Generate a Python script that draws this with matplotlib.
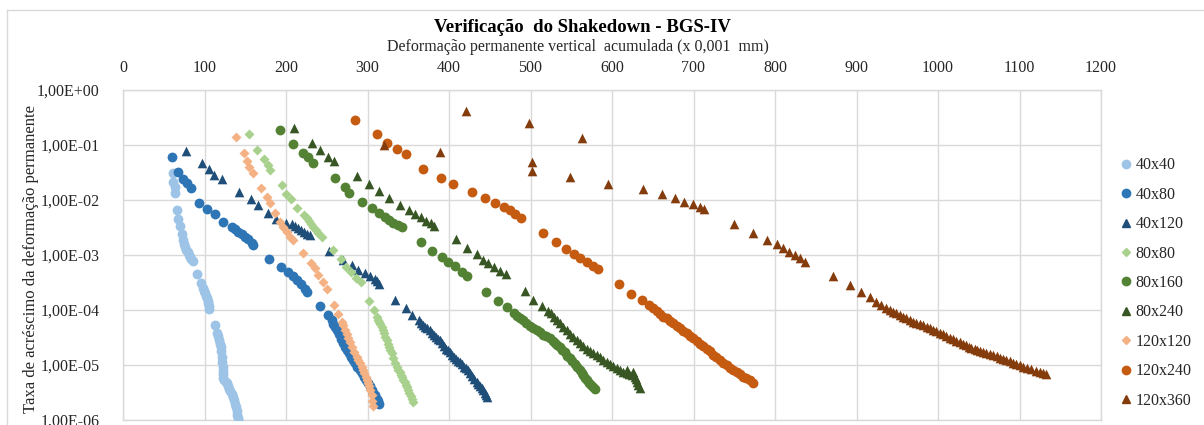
import numpy as np
import matplotlib
matplotlib.use("Agg")
import matplotlib.pyplot as plt
from matplotlib.lines import Line2D

plt.rcParams['font.family'] = ['Liberation Serif', 'DejaVu Serif']

title = "Verificação  do Shakedown - BGS-IV"
xlabel = "Deformação permanente vertical  acumulada (x 0,001  mm)"
ylabel = "Taxa de acréscimo da deformação permanente"

x_ticks = [0, 100, 200, 300, 400, 500, 600, 700, 800, 900, 1000, 1100, 1200]
y_ticks = [1e0, 1e-1, 1e-2, 1e-3, 1e-4, 1e-5, 1e-6]
y_tick_labels = ["1,00E+00", "1,00E-01", "1,00E-02", "1,00E-03", "1,00E-04", "1,00E-05", "1,00E-06"]

labels = ["40x40", "40x80", "40x120", "80x80", "80x160", "80x240", "120x120", "120x240", "120x360"]

# x values and log10(y) values
x_40x40 = [61.0, 61.7, 63.3, 63.8, 65.9, 67.1, 70.0, 72.0, 73.3, 74.8, 76.5, 77.8, 79.2, 80.6, 82.0, 83.5, 85.5,
           91.1, 95.3, 98.5, 99.6, 100.6, 101.6, 102.7, 103.7, 104.6, 105.3, 105.9, 112.9, 115.7, 116.9, 118.1,
           119.0, 119.8, 120.4, 121.1, 121.6, 122.3, 122.5, 122.3, 122.5, 124.5, 126.0, 127.2, 128.8, 130.3,
           131.8, 133.5, 135.3, 136.5, 137.6, 138.6, 139.4, 140.2, 141.5, 142.7]
ly_40x40 = [-1.515, -1.667, -1.764, -1.873, -2.18, -2.345, -2.47, -2.62, -2.73, -2.80, -2.85, -2.90, -2.95, -3.00,
            -3.04, -3.07, -3.10, -3.35, -3.50, -3.60, -3.65, -3.69, -3.74, -3.78, -3.83, -3.87, -3.93, -3.98,
            -4.27, -4.42, -4.48, -4.55, -4.61, -4.67, -4.75, -4.85, -4.95, -5.04, -5.10, -5.17, -5.24, -5.28,
            -5.31, -5.33, -5.39, -5.43, -5.47, -5.52, -5.58, -5.64, -5.70, -5.76, -5.84, -5.91, -5.97, -6.04]

x_40x80 = [60.5, 67.9, 73.2, 78.1, 83.0, 92.8, 103.4, 112.9, 123.0, 133.3, 137.4, 141.4, 145.6, 149.7, 153.7,
           157.9, 159.9, 179.1, 193.4, 202.8, 208.2, 213.1, 218.4, 223.3, 225.3, 241.7, 251.1, 256.0, 258.0,
           260.0, 262.1, 264.6, 267.2, 269.7, 272.3, 274.9, 277.4, 280.0, 282.5, 285.1, 287.7, 290.3, 292.8,
           295.4, 297.9, 300.5, 303.0, 305.0, 307.1, 309.1, 311.2, 312.8, 314.5]
ly_40x80 = [-1.224, -1.485, -1.624, -1.697, -1.788, -2.049, -2.164, -2.26, -2.406, -2.485, -2.53, -2.576, -2.62,
            -2.667, -2.715, -2.776, -2.81, -3.07, -3.21, -3.31, -3.39, -3.45, -3.53, -3.62, -3.67, -3.93, -4.09,
            -4.19, -4.25, -4.31, -4.36, -4.44, -4.52, -4.60, -4.67, -4.73, -4.79, -4.85, -4.91, -4.97, -5.03,
            -5.09, -5.15, -5.21, -5.27, -5.33, -5.39, -5.45, -5.50, -5.55, -5.61, -5.65, -5.70]

x_40x120 = [76.9, 96.5, 105.5, 111.6, 121.8, 142.7, 156.6, 165.2, 177.5, 187.5, 200.0, 206.9, 211.0, 215.0,
            218.5, 222.0, 226.0, 229.4, 253.1, 269.5, 280.5, 288.6, 296.9, 303.0, 309.1, 312.0, 314.4, 333.7,
            347.2, 354.1, 363.5, 366.0, 368.4, 371.0, 373.5, 376.6, 379.0, 381.5, 384.0, 386.5, 388.9, 391.5,
            394.0, 396.5, 399.0, 401.2, 404.0, 406.5, 409.0, 411.0, 413.4, 416.0, 418.5, 421.0, 423.6, 426.0,
            428.5, 431.0, 433.9, 436.0, 438.0, 440.0, 442.0, 444.0, 445.5, 446.9]
ly_40x120 = [-1.109, -1.321, -1.442, -1.545, -1.618, -1.848, -1.982, -2.09, -2.23, -2.34, -2.41, -2.44, -2.47,
             -2.50, -2.54, -2.576, -2.61, -2.636, -2.92, -3.09, -3.18, -3.27, -3.33, -3.39, -3.44, -3.48, -3.52,
             -3.81, -3.97, -4.09, -4.19, -4.23, -4.27, -4.30, -4.33, -4.36, -4.41, -4.45, -4.49, -4.52, -4.545,
             -4.60, -4.65, -4.70, -4.73, -4.76, -4.81, -4.85, -4.89, -4.92, -4.94, -4.99, -5.03, -5.06, -5.09,
             -5.15, -5.20, -5.25, -5.30, -5.35, -5.39, -5.42, -5.45, -5.50, -5.54, -5.58]

x_80x80 = [154.6, 164.8, 173.4, 177.5, 180.3, 194.7, 200.0, 205.7, 213.8, 222.0, 225.3, 228.6, 231.0, 233.5,
           236.5, 239.6, 243.7, 258.0, 267.0, 273.5, 279.3, 285.8, 291.5, 302.2, 307.9, 311.2, 312.8, 314.3,
           315.8, 317.3, 318.9, 320.4, 321.9, 323.4, 325.0, 326.5, 328.0, 329.6, 331.7, 333.7, 335.8, 337.8,
           339.3, 340.8, 342.3, 343.9, 345.5, 347.0, 348.5, 350.0, 351.5, 353.0, 354.5, 356.1]
ly_80x80 = [-0.806, -1.09, -1.255, -1.364, -1.455, -1.727, -1.89, -1.988, -2.14, -2.27, -2.33, -2.38, -2.43,
            -2.485, -2.55, -2.606, -2.667, -2.91, -3.08, -3.21, -3.30, -3.41, -3.485, -3.84, -4.00, -4.13,
            -4.18, -4.22, -4.26, -4.30, -4.36, -4.42, -4.49, -4.55, -4.61, -4.67, -4.73, -4.79, -4.88, -4.97,
            -5.03, -5.09, -5.13, -5.18, -5.22, -5.27, -5.31, -5.36, -5.40, -5.45, -5.50, -5.56, -5.62, -5.67]

x_80x160 = [192.6, 208.2, 221.2, 227.3, 233.5, 260.1, 272.3, 277.7, 292.8, 305.0, 314.4, 321.4, 326.6, 331.6,
            337.0, 341.9, 365.5, 379.4, 390.9, 399.1, 407.3, 415.5, 422.4, 445.3, 460.4, 470.7, 479.6, 483.0,
            487.0, 491.1, 495.0, 499.0, 503.0, 507.5, 511.5, 515.5, 519.5, 523.8, 527.0, 530.0, 533.0, 536.1,
            539.0, 542.0, 545.0, 548.3, 551.5, 554.5, 557.5, 560.6, 562.7, 564.8, 566.8, 568.8, 571.3, 573.8,
            576.5, 579.0]
ly_80x160 = [-0.727, -0.982, -1.14, -1.224, -1.321, -1.606, -1.758, -1.867, -2.04, -2.14, -2.24, -2.30, -2.36,
             -2.41, -2.46, -2.485, -2.76, -2.92, -3.03, -3.12, -3.20, -3.30, -3.39, -3.67, -3.84, -3.94, -4.06,
             -4.10, -4.15, -4.19, -4.24, -4.29, -4.33, -4.36, -4.40, -4.45, -4.48, -4.51, -4.56, -4.60, -4.64,
             -4.67, -4.72, -4.77, -4.83, -4.88, -4.93, -4.99, -5.04, -5.09, -5.14, -5.19, -5.23, -5.27, -5.32,
             -5.36, -5.40, -5.44]

x_80x240 = [210.1, 231.5, 241.7, 252.0, 259.2, 286.7, 302.2, 314.0, 326.6, 339.9, 351.2, 358.2, 365.2, 371.7,
            377.5, 381.5, 408.1, 421.6, 433.9, 441.2, 448.1, 455.5, 462.5, 469.8, 493.1, 503.3, 513.6, 521.7,
            525.0, 528.5, 532.0, 536.0, 540.0, 544.3, 548.5, 552.5, 556.5, 560.5, 564.5, 568.8, 573.0, 577.0,
            581.1, 585.0, 589.0, 593.3, 597.5, 601.5, 605.6, 609.7, 613.8, 617.9, 621.3, 624.7, 628.1, 629.0,
            630.1, 632.0, 634.2, 626.0, 619.0]
ly_80x240 = [-0.697, -0.958, -1.09, -1.212, -1.29, -1.564, -1.715, -1.83, -1.97, -2.09, -2.18, -2.26, -2.315,
             -2.376, -2.42, -2.467, -2.715, -2.88, -2.98, -3.09, -3.15, -3.22, -3.285, -3.345, -3.65, -3.82,
             -3.92, -4.01, -4.06, -4.12, -4.18, -4.24, -4.30, -4.36, -4.43, -4.49, -4.55, -4.60, -4.65, -4.70,
             -4.74, -4.78, -4.82, -4.86, -4.90, -4.94, -4.98, -5.02, -5.06, -5.09, -5.12, -5.15, -5.17, -5.19,
             -5.21, -5.25, -5.30, -5.36, -5.42, -5.13, -5.09]

x_120x120 = [138.2, 148.4, 151.7, 155.0, 159.1, 169.3, 176.3, 180.3, 186.5, 192.6, 195.9, 200.8, 204.9, 208.9,
             220.4, 230.2, 235.5, 239.6, 245.0, 249.9, 259.2, 264.2, 268.3, 270.4, 272.4, 274.4, 276.4, 278.9,
             281.5, 284.0, 286.6, 288.6, 290.7, 292.7, 294.8, 296.3, 297.8, 299.4, 300.9, 302.3, 303.6, 305.0,
             305.6, 306.3]
ly_120x120 = [-0.86, -1.14, -1.29, -1.394, -1.503, -1.776, -1.94, -2.06, -2.23, -2.394, -2.485, -2.576, -2.667,
              -2.727, -2.97, -3.14, -3.24, -3.36, -3.485, -3.62, -3.91, -4.07, -4.21, -4.28, -4.36, -4.43, -4.51,
              -4.59, -4.68, -4.76, -4.85, -4.91, -4.97, -5.03, -5.09, -5.15, -5.21, -5.27, -5.33, -5.39, -5.45,
              -5.55, -5.65, -5.75]

x_120x240 = [284.6, 312.0, 324.2, 336.5, 347.2, 368.4, 389.7, 404.4, 427.7, 444.1, 456.3, 467.4, 474.7, 480.9,
             487.9, 514.8, 531.2, 543.4, 553.6, 560.6, 568.8, 576.2, 582.3, 608.8, 623.9, 636.2, 645.7, 650.6,
             654.7, 658.8, 663.0, 667.0, 671.0, 675.0, 679.2, 683.3, 687.4, 691.5, 695.5, 699.6, 703.7, 707.8,
             711.9, 716.0, 720.0, 724.1, 728.2, 732.3, 736.4, 740.5, 744.6, 748.7, 752.8, 756.9, 761.0, 765.0,
             769.0, 773.2]
ly_120x240 = [-0.545, -0.806, -0.97, -1.08, -1.164, -1.44, -1.606, -1.715, -1.86, -1.97, -2.05, -2.12, -2.19,
              -2.25, -2.32, -2.606, -2.77, -2.89, -2.98, -3.06, -3.12, -3.20, -3.26, -3.53, -3.70, -3.82, -3.91,
              -3.97, -4.02, -4.08, -4.12, -4.15, -4.20, -4.24, -4.29, -4.33, -4.38, -4.42, -4.47, -4.51, -4.56,
              -4.61, -4.65, -4.70, -4.75, -4.81, -4.86, -4.91, -4.96, -5.00, -5.05, -5.09, -5.13, -5.17, -5.21,
              -5.24, -5.28, -5.32]

x_120x360 = [320.5, 388.9, 421.0, 498.0, 501.3, 501.3, 548.3, 562.7, 595.4, 638.3, 660.8, 677.1, 688.2, 699.6,
             707.8, 712.7, 749.9, 772.4, 789.6, 801.9, 810.0, 817.4, 824.3, 830.5, 836.6, 871.4, 891.8, 906.1,
             917.1, 924.5, 930.6, 936.8, 940.9, 945.0, 949.0, 953.1, 957.2, 961.3, 965.4, 969.5, 973.6, 977.7,
             981.8, 985.9, 990.0, 994.0, 998.1, 1002.2, 1006.3, 1010.4, 1014.4, 1018.5, 1022.6, 1026.7, 1030.8,
             1034.9, 1038.0, 1041.0, 1045.1, 1048.2, 1051.3, 1055.4, 1059.5, 1063.6, 1067.7, 1071.8, 1075.9,
             1080.0, 1084.0, 1088.1, 1092.2, 1096.2, 1100.3, 1104.7, 1109.2, 1114.6, 1119.7, 1124.8, 1128.5,
             1132.2]
ly_120x360 = [-1.00, -1.12, -0.382, -0.606, -1.30, -1.47, -1.576, -0.867, -1.715, -1.806, -1.897, -1.97, -2.03,
              -2.08, -2.12, -2.16, -2.44, -2.606, -2.727, -2.806, -2.88, -2.94, -3.00, -3.06, -3.12, -3.38, -3.55,
              -3.67, -3.76, -3.85, -3.91, -3.97, -4.00, -4.03, -4.06, -4.09, -4.12, -4.15, -4.18, -4.21, -4.23,
              -4.255, -4.28, -4.30, -4.33, -4.355, -4.38, -4.41, -4.44, -4.47, -4.50, -4.53, -4.56, -4.585, -4.61,
              -4.64, -4.67, -4.69, -4.70, -4.72, -4.74, -4.76, -4.78, -4.80, -4.82, -4.84, -4.87, -4.89, -4.91,
              -4.93, -4.955, -4.98, -5.00, -5.03, -5.05, -5.08, -5.10, -5.12, -5.14, -5.16]

series_x = [x_40x40, x_40x80, x_40x120, x_80x80, x_80x160, x_80x240, x_120x120, x_120x240, x_120x360]
series_ly = [ly_40x40, ly_40x80, ly_40x120, ly_80x80, ly_80x160, ly_80x240, ly_120x120, ly_120x240, ly_120x360]

colors = ['#9DC3E6', '#2E75B6', '#1F4E79', '#A9D18E', '#548235', '#375623', '#F4B183', '#C55A11', '#843C0C']
markers = ['o', 'o', '^', 'D', 'o', '^', 'D', 'o', '^']
sizes = [50, 50, 48, 26, 50, 48, 26, 50, 48]

W, H = 1204, 425
fig = plt.figure(figsize=(W / 100, H / 100), dpi=100)
left, right, top, bottom = 123, 1101, 90, 420
ax = fig.add_axes([left / W, 1 - bottom / H, (right - left) / W, (bottom - top) / H])

for xs, lys, c, m, s, lab in zip(series_x, series_ly, colors, markers, sizes, labels):
    ax.scatter(xs, 10 ** np.array(lys), color=c, marker=m, s=s, linewidths=0, label=lab, zorder=3)

ax.set_yscale('log')
ax.set_ylim(1e-6, 1)
ax.set_xlim(0, 1200)
ax.set_xticks(x_ticks)
ax.set_xticklabels([str(t) for t in x_ticks])
ax.set_yticks(y_ticks)
ax.set_yticklabels(y_tick_labels)
ax.yaxis.set_minor_locator(matplotlib.ticker.NullLocator())
ax.xaxis.tick_top()
ax.tick_params(axis='x', length=0, pad=10, labelsize=11.5)
ax.tick_params(axis='y', length=0, pad=17, labelsize=11.5)
for lbl in ax.get_xticklabels() + ax.get_yticklabels():
    lbl.set_color('#262626')
ax.grid(True, color='#D9D9D9', linewidth=1.0, zorder=0)
ax.set_axisbelow(True)
for sp in ax.spines.values():
    sp.set_color('#D9D9D9')
    sp.set_linewidth(1.0)

fig.text(582 / W, 1 - 27 / H, title, ha='center', va='center', fontsize=13.5, fontweight='bold', color='#000000')
fig.text(578 / W, 1 - 47 / H, xlabel, ha='center', va='center', fontsize=11.5, color='#262626')
fig.text(31 / W, 1 - 259 / H, ylabel, ha='center', va='center', rotation=90, fontsize=12, color='#262626')

# outer chart border
fig.add_artist(Line2D([7 / W, 1.0], [1 - 10 / H, 1 - 10 / H], color='#D9D9D9', linewidth=1.0))
fig.add_artist(Line2D([7 / W, 7 / W], [0, 1 - 10 / H], color='#D9D9D9', linewidth=1.0))

handles = [Line2D([], [], linestyle='none', marker=m, color=c, markersize=(6 if m != 'D' else 4.5))
           for m, c in zip(markers, colors)]
fig.legend(handles, labels, loc='upper left', bbox_to_anchor=(1115 / W, 1 - 151 / H), frameon=False,
           fontsize=11.5, handlelength=0.6, handletextpad=0.3, labelspacing=0.84, borderaxespad=0,
           labelcolor='#262626')

fig.savefig('out.png', dpi=100)
